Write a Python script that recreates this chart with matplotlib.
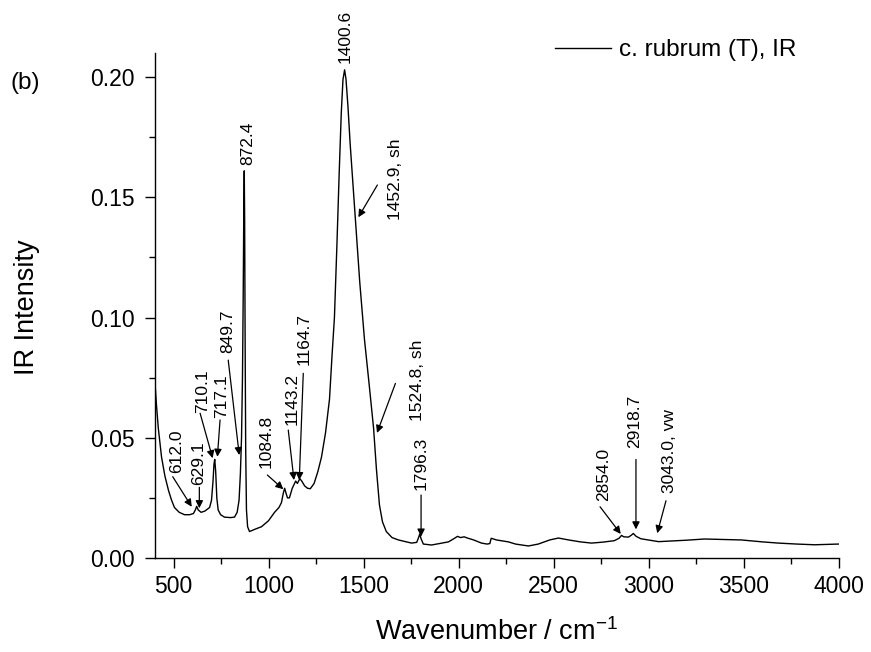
import numpy as np
import matplotlib
matplotlib.use('Agg')
import matplotlib.pyplot as plt
from matplotlib.ticker import MultipleLocator

plt.rcParams['font.family'] = ['Liberation Sans', 'DejaVu Sans']
plt.rcParams['mathtext.default'] = 'regular'

# IR spectrum (wavenumber in cm-1, intensity)
wavenumber = [400, 405, 410, 420, 437, 455, 474, 490, 505, 530, 558, 585, 605, 615, 622, 630,
              645, 665, 690, 700, 708, 713, 717, 722, 728, 735, 748, 768, 800, 821, 835, 845,
              852, 858, 863, 867, 870, 872.4, 874.5, 877, 880, 884, 890, 900, 930, 963, 1000,
              1032, 1055, 1068, 1078, 1085, 1092, 1100, 1110, 1125, 1137, 1143, 1152, 1165,
              1175, 1190, 1205, 1220, 1240, 1260, 1279, 1300, 1321, 1335, 1347, 1360, 1372,
              1383, 1392, 1400.6, 1408, 1418, 1430, 1445, 1463, 1480, 1505, 1530, 1553, 1568,
              1584, 1600, 1620, 1650, 1684, 1720, 1753, 1780, 1790, 1796, 1803, 1815, 1858,
              1900, 1947, 1975, 1995, 2010, 2030, 2047, 2080, 2121, 2150, 2165, 2172, 2200,
              2263, 2300, 2368, 2420, 2480, 2526, 2580, 2642, 2700, 2760, 2820, 2845, 2858,
              2870, 2895, 2910, 2920, 2935, 2960, 2999, 3053, 3100, 3200, 3295, 3400, 3489,
              3600, 3684, 3780, 3874, 3950, 4000]
intensity = [0.076, 0.070, 0.064, 0.054, 0.042, 0.034, 0.028, 0.024, 0.021, 0.019, 0.018, 0.018,
             0.0185, 0.020, 0.0215, 0.020, 0.019, 0.0195, 0.021, 0.024, 0.032, 0.039, 0.041,
             0.036, 0.025, 0.020, 0.018, 0.017, 0.0168, 0.017, 0.019, 0.024, 0.035, 0.050,
             0.075, 0.110, 0.145, 0.161, 0.140, 0.090, 0.045, 0.020, 0.013, 0.011, 0.012,
             0.013, 0.0155, 0.019, 0.021, 0.023, 0.027, 0.029, 0.027, 0.025, 0.025, 0.029,
             0.031, 0.032, 0.031, 0.033, 0.032, 0.030, 0.029, 0.0288, 0.031, 0.036, 0.042,
             0.052, 0.066, 0.085, 0.100, 0.130, 0.160, 0.185, 0.199, 0.203, 0.199, 0.188,
             0.172, 0.155, 0.135, 0.115, 0.091, 0.072, 0.054, 0.037, 0.022, 0.015, 0.011,
             0.0085, 0.0075, 0.0068, 0.0062, 0.0065, 0.0085, 0.0100, 0.0080, 0.0058, 0.0054,
             0.0060, 0.0067, 0.0080, 0.0090, 0.0085, 0.0088, 0.0083, 0.0075, 0.0062, 0.0058,
             0.0060, 0.0082, 0.0075, 0.0067, 0.0058, 0.0050, 0.0058, 0.0075, 0.0083, 0.0075,
             0.0067, 0.0062, 0.0066, 0.0072, 0.0082, 0.0094, 0.0088, 0.0087, 0.0095, 0.0102,
             0.0090, 0.0080, 0.0075, 0.0068, 0.0070, 0.0074, 0.0079, 0.0077, 0.0075, 0.0067,
             0.0062, 0.0058, 0.0055, 0.0057, 0.0058]

# peak labels
peak_labels = ['612.0', '629.1', '710.1', '717.1', '849.7', '872.4', '1084.8', '1143.2',
               '1164.7', '1400.6', '1452.9, sh', '1524.8, sh', '1796.3', '2854.0', '2918.7',
               '3043.0, vw']

# where each label sits (x centre, bottom of text) and its arrow (tail -> tip), data coords
label_pos = [(515, 0.0353), (634, 0.0304), (654, 0.0603), (755, 0.0582), (788, 0.0852),
             (892, 0.1635), (990, 0.0374), (1122, 0.0553), (1187, 0.0802), (1403, 0.2058),
             (1666, 0.1405), (1782, 0.0570), (1801, 0.0283), (2762, 0.0238), (2929, 0.0457),
             (3113, 0.0269)]
arrow_tail = [(496, 0.0338), (636, 0.0294), (640, 0.0602), (745, 0.0574), (788, 0.0823),
              None, (994, 0.0345), (1104, 0.0532), (1183, 0.0768), None,
              (1573, 0.1551), (1668, 0.0726), (1803, 0.0262), (2745, 0.0213), (2934, 0.0410),
              (3092, 0.0238)]
arrow_tip = [(596, 0.0213), (636, 0.0207), (706, 0.0415), (731, 0.0421), (846, 0.0428),
             None, (1078, 0.0286), (1134, 0.0324), (1162, 0.0324), None,
             (1473, 0.1417), (1571, 0.0520), (1803, 0.0089), (2854, 0.0100), (2934, 0.0119),
             (3046, 0.0103)]

fig = plt.figure(figsize=(8.71, 6.52), dpi=100)
ax = fig.add_axes([154.5 / 871, 94 / 652, 684 / 871, 505 / 652])

ax.plot(wavenumber, intensity, color='black', lw=1.0, label='c. rubrum (T), IR')

for lab, pos, tail, tip in zip(peak_labels, label_pos, arrow_tail, arrow_tip):
    ax.text(pos[0], pos[1], lab, rotation=90, ha='center', va='bottom', fontsize=12.5)
    if tail is not None:
        ax.annotate('', xy=tip, xytext=tail,
                    arrowprops=dict(arrowstyle='-|>', color='black', lw=0.9,
                                    mutation_scale=11, shrinkA=0, shrinkB=0))

ax.set_xlim(400, 4000)
ax.set_ylim(0, 0.21)
ax.xaxis.set_major_locator(MultipleLocator(500))
ax.xaxis.set_minor_locator(MultipleLocator(250))
ax.yaxis.set_major_locator(MultipleLocator(0.05))
ax.yaxis.set_minor_locator(MultipleLocator(0.025))
ax.yaxis.set_major_formatter(plt.FuncFormatter(lambda v, p: '%.2f' % v))
ax.set_xticks([500, 1000, 1500, 2000, 2500, 3000, 3500, 4000])
ax.tick_params(which='major', direction='out', length=7.5, width=1.0, labelsize=16.5, pad=5)
ax.tick_params(which='minor', direction='out', length=4, width=1.0)
ax.tick_params(axis='y', which='major', pad=7)
ax.spines['top'].set_visible(False)
ax.spines['right'].set_visible(False)
ax.spines['left'].set_linewidth(1.0)
ax.spines['bottom'].set_linewidth(1.0)

fig.text(496.5 / 871, 1 - 632 / 652, 'Wavenumber / cm$^{-1}$', ha='center', va='center', fontsize=19.5)
fig.text(27.5 / 871, 1 - 307 / 652, 'IR Intensity', rotation=90, ha='center', va='center', fontsize=19.5)
fig.text(10 / 871, 1 - 83 / 652, '(b)', ha='left', va='center', fontsize=17.5)

ax.legend(frameon=False, loc='center left', bbox_to_anchor=(555 / 871, 1 - 50 / 652),
          bbox_transform=fig.transFigure, borderpad=0, borderaxespad=0,
          handlelength=2.3, handletextpad=0.35, fontsize=17.5)

plt.savefig('out.png', dpi=100)
